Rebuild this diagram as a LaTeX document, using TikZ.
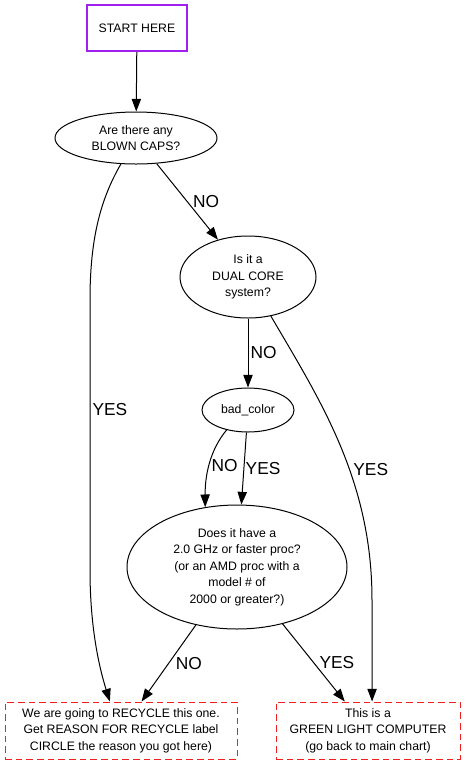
\documentclass[tikz,border=0pt]{standalone}
\usepackage{fontspec}
\setmainfont{Liberation Sans}
\usetikzlibrary{arrows.meta,shapes.geometric}
\definecolor{lila}{HTML}{A020F0}
\definecolor{rot}{HTML}{F02020}
\tikzset{
  startbox/.style={draw=lila,line width=1.5pt,minimum width=75pt,minimum height=34.5pt,inner sep=0pt,font=\fontsize{9.2}{12.4}\selectfont},
  frage/.style={ellipse,draw,line width=0.75pt,inner sep=0pt,align=center,font=\fontsize{9.2}{12.4}\selectfont},
  ziel/.style={draw=rot,dash pattern=on 5pt off 3pt,line width=0.75pt,inner sep=0pt,align=center,minimum height=42.75pt,font=\fontsize{9.2}{12.4}\selectfont},
  kante/.style={-{Triangle[length=9.5pt,width=7pt]},line width=0.75pt},
  marke/.style={font=\fontsize{13}{15}\selectfont,inner sep=1pt},
}
\begin{document}
\begin{tikzpicture}[x=0.75pt,y=-0.75pt]
  \useasboundingbox (0,0) rectangle (465,765);
  \node[startbox] (start) at (137,28) {START HERE};
  \node[frage,minimum width=121.5pt,minimum height=39pt] (blown) at (136,138) {Are there any\\BLOWN CAPS?};
  \node[frage,minimum width=102pt,minimum height=61.5pt] (dual) at (248,277) {Is it a\\DUAL CORE\\system?};
  \node[frage,minimum width=69pt,minimum height=33pt] (bad) at (248,410) {bad\_color};
  \node[frage,minimum width=165pt,minimum height=93pt] (ghz) at (237,567) {Does it have a\\2.0 GHz or faster proc?\\(or an AMD proc with a\\model \# of\\2000 or greater?)};
  \node[ziel,minimum width=174pt] (recycle) at (121,730.5) {We are going to RECYCLE this one.\\Get REASON FOR RECYCLE label\\CIRCLE the reason you got here)};
  \node[ziel,minimum width=138pt] (green) at (368,730.5) {This is a\\GREEN LIGHT COMPUTER\\(go back to main chart)};

  \draw[kante] (start) -- (blown);
  \draw[kante] (blown) -- node[marke,right=3pt]{NO} (dual);
  \draw[kante] (blown) .. controls (100,200) and (90,240) .. (90,300)
    -- node[marke,pos=0.407,right=0.5pt]{YES} (90,570)
    .. controls (90,630) and (100,670) .. (recycle.111);
  \draw[kante] (dual) -- node[marke,right=0.5pt]{NO} (bad);
  \draw[kante] (dual) .. controls (320,400) and (372,480) .. node[marke,pos=0.59,right=1.5pt]{YES} (372,600) -- (green.82);
  \draw[kante] (bad.223) .. controls (210,450) and (205,475) .. node[marke,pos=0.52,right=0.5pt]{NO} (ghz.118);
  \draw[kante] (bad) -- node[marke,right=0pt]{YES} (ghz);
  \draw[kante] (ghz) -- node[marke,right=4pt]{NO} (recycle);
  \draw[kante] (ghz) -- node[marke,right=3pt]{YES} (green);
\end{tikzpicture}
\end{document}
